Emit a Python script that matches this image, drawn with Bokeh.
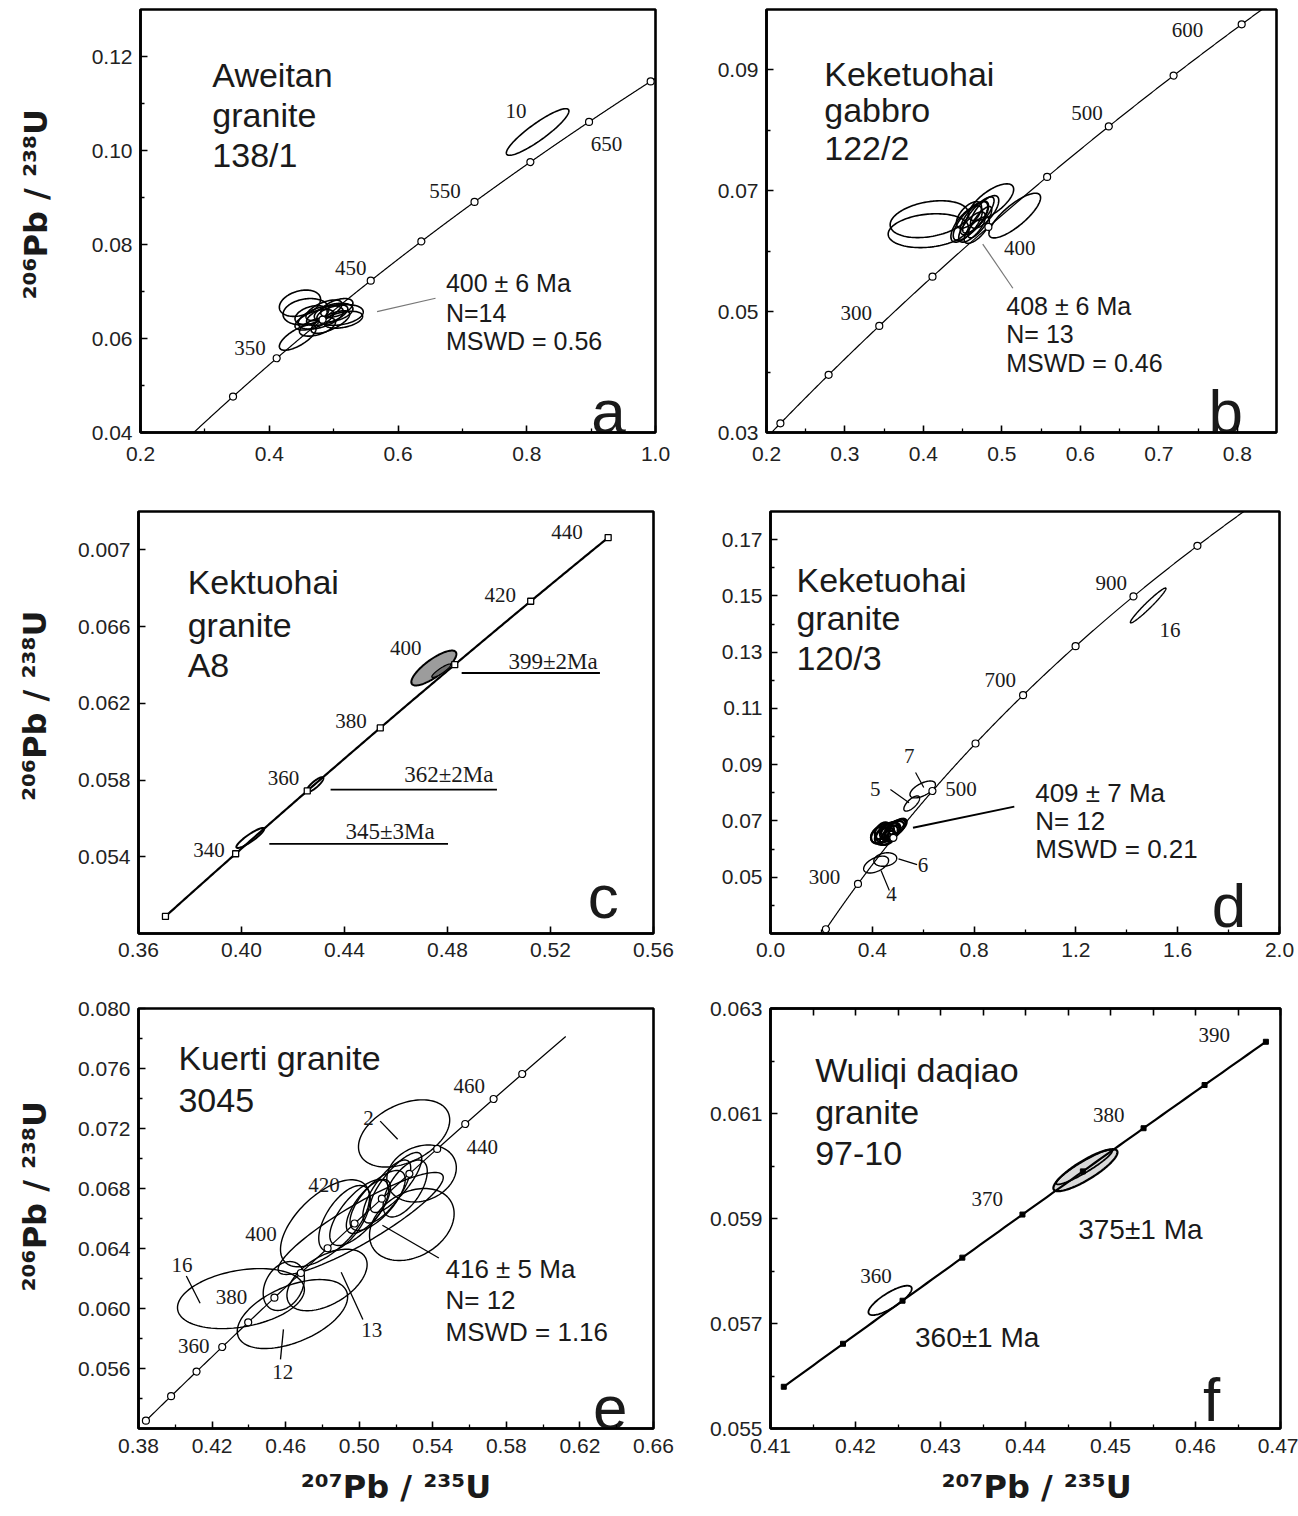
import numpy as np
from bokeh.plotting import figure
from bokeh.layouts import column, row
from bokeh.models import FixedTicker, LinearAxis, Range1d, PrintfTickFormatter
from bokeh.core.properties import value
from bokeh.embed import file_html
from bokeh.resources import INLINE

# ---------------------------------------------------------------------------
# Decay constants (1/yr) for the Wetherill concordia
LAMBDA_238 = 1.55125e-10
LAMBDA_235 = 9.8485e-10

# ---------------------------------------------------------------------------
# a  Aweitan granite 138/1
a_curve_span = [250, 710]
a_marker_ages = [300, 350, 400, 450, 500, 550, 600, 650, 700]
a_age_text = ["350", "450", "550", "650"]
a_ell_x = [0.8169, 0.4477, 0.4570, 0.4442, 0.470, 0.480, 0.490, 0.500, 0.510, 0.475, 0.495, 0.485, 0.505, 0.465, 0.515]
a_ell_y = [0.10394, 0.0675, 0.0657, 0.0602, 0.0640, 0.0645, 0.0650, 0.0655, 0.0650, 0.0625, 0.0635, 0.0660, 0.0665, 0.0650, 0.0640]
a_ell_sx = [0.0486, 0.032, 0.0356, 0.0285, 0.030, 0.035, 0.032, 0.030, 0.036, 0.028, 0.030, 0.028, 0.025, 0.025, 0.030]
a_ell_sy = [0.00496, 0.0028, 0.0028, 0.0027, 0.0022, 0.0025, 0.0022, 0.0020, 0.0022, 0.0020, 0.0024, 0.0022, 0.0020, 0.0020, 0.0018]
a_ell_rho = [0.9, 0.3, 0.2, 0.7, 0.6, 0.5, 0.6, 0.4, 0.3, 0.5, 0.7, 0.6, 0.5, 0.4, 0.4]
a_result = ["400 \u00b1 6 Ma", "N=14", "MSWD = 0.56"]
a_spot_text = ["10"]

# b  Keketuohai gabbro 122/2
b_curve_span = [185, 660]
b_marker_ages = [200, 250, 300, 350, 400, 450, 500, 550, 600]
b_age_text = ["300", "400", "500", "600"]
b_ell_x = [0.4075, 0.4062, 0.5164, 0.4862, 0.455, 0.460, 0.465, 0.470, 0.462, 0.472, 0.478, 0.458, 0.468]
b_ell_y = [0.0653, 0.0634, 0.0659, 0.0681, 0.0645, 0.0650, 0.0655, 0.0660, 0.0640, 0.0648, 0.0665, 0.0660, 0.0635]
b_ell_sx = [0.0499, 0.0511, 0.0329, 0.0288, 0.020, 0.022, 0.018, 0.020, 0.017, 0.015, 0.018, 0.016, 0.016]
b_ell_sy = [0.00305, 0.0028, 0.0037, 0.00305, 0.0030, 0.0032, 0.0028, 0.0030, 0.0025, 0.0026, 0.0027, 0.0022, 0.0022]
b_ell_rho = [0.3, 0.2, 0.8, 0.7, 0.7, 0.75, 0.7, 0.8, 0.7, 0.8, 0.7, 0.6, 0.7]
b_result = ["408 \u00b1 6 Ma", "N= 13", "MSWD = 0.46"]

# c  Kektuohai granite A8
c_curve_span = [320, 440]
c_marker_ages = [320, 340, 360, 380, 400, 420, 440]
c_age_text = ["440", "420", "400", "380", "360", "340"]
c_ell_x = [0.4034, 0.4285]
c_ell_y = [0.05498, 0.05776]
c_ell_sx = [0.0054, 0.0033]
c_ell_sy = [0.00052, 0.00039]
c_ell_rho = [0.9, 0.85]
c_fill_x = [0.4747, 0.4776]
c_fill_y = [0.06384, 0.0637]
c_fill_sx = [0.00875, 0.0037]
c_fill_sy = [0.00091, 0.00035]
c_fill_rho = [0.8, 0.9]
c_dates = ["399\u00b12Ma", "362\u00b12Ma", "345\u00b13Ma"]

# d  Keketuohai granite 120/3
d_curve_span = [190, 1080]
d_marker_ages = [200, 300, 400, 500, 600, 700, 800, 900, 1000]
d_age_text = ["300", "500", "700", "900"]
d_ell_x = [0.44, 0.46, 0.47, 0.48, 0.45, 0.49, 0.43, 0.50, 0.46, 0.47, 0.44, 0.48]
d_ell_y = [0.0655, 0.0660, 0.0665, 0.0670, 0.0645, 0.0675, 0.0650, 0.0680, 0.0640, 0.0655, 0.0665, 0.0660]
d_ell_sx = [0.045, 0.045, 0.040, 0.045, 0.040, 0.040, 0.035, 0.035, 0.030, 0.030, 0.030, 0.030]
d_ell_sy = [0.0035, 0.0035, 0.0030, 0.0030, 0.0030, 0.0030, 0.0030, 0.0028, 0.0025, 0.0028, 0.0030, 0.0025]
d_ell_rho = [0.4, 0.5, 0.4, 0.5, 0.3, 0.6, 0.3, 0.6, 0.4, 0.5, 0.4, 0.5]
d_out_x = [1.484, 0.598, 0.555, 0.451, 0.415]
d_out_y = [0.1466, 0.0812, 0.0762, 0.0563, 0.0545]
d_out_sx = [0.070, 0.050, 0.031, 0.045, 0.049]
d_out_sy = [0.0062, 0.0030, 0.0027, 0.0024, 0.0030]
d_out_rho = [0.97, 0.6, 0.7, 0.2, 0.5]
d_spot_text = ["16", "7", "5", "6", "4"]
d_result = ["409 \u00b1 7 Ma", "N= 12", "MSWD = 0.21"]

# e  Kuerti granite 3045
e_curve_span = [330, 485]
e_marker_ages = [330, 340, 350, 360, 370, 380, 390, 400, 410, 420, 430, 440, 450, 460, 470]
e_age_text = ["460", "440", "420", "400", "380", "360"]
e_ell_x = [0.5244, 0.4357, 0.4637, 0.459, 0.4825, 0.5008, 0.5286, 0.4814, 0.5339,
           0.510, 0.515, 0.505, 0.520, 0.500, 0.525, 0.492]
e_ell_y = [0.07167, 0.06066, 0.05963, 0.0615, 0.0619, 0.06567, 0.0656, 0.06568, 0.0690,
           0.0672, 0.0678, 0.0668, 0.0684, 0.0664, 0.0680, 0.0660]
e_ell_sx = [0.0248, 0.0345, 0.030, 0.0112, 0.0218, 0.0449, 0.023, 0.0242, 0.0189,
            0.015, 0.013, 0.012, 0.014, 0.016, 0.012, 0.014]
e_ell_sy = [0.00224, 0.0020, 0.0023, 0.00163, 0.00205, 0.0034, 0.0024, 0.0029, 0.0019,
            0.0020, 0.0021, 0.0018, 0.0020, 0.0022, 0.0019, 0.0022]
e_ell_rho = [0.4, 0.3, 0.5, 0.3, 0.5, 0.9, 0.3, 0.6, 0.2,
             0.7, 0.75, 0.7, 0.8, 0.7, 0.6, 0.6]
e_spot_text = ["2", "16", "13", "12"]
e_result = ["416 \u00b1 5 Ma", "N= 12", "MSWD = 1.16"]

# f  Wuliqi daqiao granite 97-10
f_curve_span = [350, 390]
f_marker_ages = [350, 355, 360, 365, 370, 375, 380, 385, 390]
f_age_text = ["390", "380", "370", "360"]
f_fill_x = [0.44705]
f_fill_y = [0.05992]
f_fill_sx = [0.00377]
f_fill_sy = [0.00040]
f_fill_rho = [0.85]
f_ell_x = [0.4469, 0.42407]
f_ell_y = [0.05998, 0.05744]
f_ell_sx = [0.0033, 0.00255]
f_ell_sy = [0.00033, 0.00028]
f_ell_rho = [0.93, 0.8]
f_dates = ["375\u00b11 Ma", "360\u00b11 Ma"]

# axis ticks
a_xt = [0.2, 0.4, 0.6, 0.8, 1.0]; a_xm = [0.3, 0.5, 0.7, 0.9]
a_yt = [0.04, 0.06, 0.08, 0.10, 0.12]; a_ym = [0.05, 0.07, 0.09, 0.11]
b_xt = [0.2, 0.3, 0.4, 0.5, 0.6, 0.7, 0.8]; b_xm = [0.25, 0.35, 0.45, 0.55, 0.65, 0.75]
b_yt = [0.03, 0.05, 0.07, 0.09]; b_ym = [0.04, 0.06, 0.08]
c_xt = [0.36, 0.40, 0.44, 0.48, 0.52, 0.56]; c_xm = []
c_yt = [0.054, 0.058, 0.062, 0.066, 0.070]; c_ym = []
d_xt = [0.0, 0.4, 0.8, 1.2, 1.6, 2.0]; d_xm = [0.2, 0.6, 1.0, 1.4, 1.8]
d_yt = [0.05, 0.07, 0.09, 0.11, 0.13, 0.15, 0.17]; d_ym = [0.04, 0.06, 0.08, 0.10, 0.12, 0.14, 0.16]
e_xt = [0.38, 0.42, 0.46, 0.50, 0.54, 0.58, 0.62, 0.66]; e_xm = [0.40, 0.44, 0.48, 0.52, 0.56, 0.60, 0.64]
e_yt = [0.056, 0.060, 0.064, 0.068, 0.072, 0.076, 0.080]; e_ym = [0.054, 0.058, 0.062, 0.066, 0.070, 0.074, 0.078]
f_xt = [0.41, 0.42, 0.43, 0.44, 0.45, 0.46, 0.47]; f_xm = [0.415, 0.425, 0.435, 0.445, 0.455, 0.465]
f_yt = [0.055, 0.057, 0.059, 0.061, 0.063]; f_ym = [0.056, 0.058, 0.060, 0.062]

Y_TITLE = "\u00b2\u2070\u2076Pb / \u00b2\u00b3\u2078U"
X_TITLE = "\u00b2\u2070\u2077Pb / \u00b2\u00b3\u2075U"

# ---------------------------------------------------------------------------
SANS = "Liberation Sans"
SERIF = "Liberation Serif"
TITLE_FONT = "DejaVu Sans"
INK = "#1a1a1a"
NB = "\u00a0"


def concordia_xy(ages):
    t = np.asarray(ages, dtype=float) * 1e6
    return np.expm1(LAMBDA_235 * t), np.expm1(LAMBDA_238 * t)


def curve(p, span, width):
    ages = np.arange(span[0], span[1] + 0.5, 0.5)
    x, y = concordia_xy(ages)
    p.line(x, y, line_color="black", line_width=width)


def ellipses(p, cx, cy, sx, sy, rho, width=1.5, fill=None, n=120):
    th = np.linspace(0, 2 * np.pi, n)
    xs, ys = [], []
    for x0, y0, a, b, r in zip(cx, cy, sx, sy, rho):
        xs.append(list(x0 + a * np.cos(th)))
        ys.append(list(y0 + b * (r * np.cos(th) + np.sqrt(1 - r * r) * np.sin(th))))
    p.patches(xs, ys, fill_color=fill, line_color="black", line_width=width)


def markers(p, ages, marker="circle", size=7, fill="white", width=1.2):
    x, y = concordia_xy(ages)
    p.scatter(x, y, marker=marker, size=size, fill_color=fill, line_color="black", line_width=width)


def put_text(p, xs, ys, texts, font=SANS, size="22px", align="left", baseline="middle", style="normal"):
    p.text(x=xs, y=ys, text=texts, text_font=value(font), text_font_size=size,
           text_align=align, text_baseline=baseline, text_color=INK, text_font_style=style)


def panel(width, height, frame, xr, yr, xt, xm, yt, ym, xfmt, yfmt, xstand, ystand=8):
    left, right, top, bottom = frame
    p = figure(width=width, height=height, x_range=Range1d(*xr), y_range=Range1d(*yr),
               output_backend="svg", toolbar_location=None,
               min_border_left=left, min_border_right=width - right,
               min_border_top=top, min_border_bottom=height - bottom)
    p.xgrid.visible = False
    p.ygrid.visible = False
    p.outline_line_color = "black"
    p.outline_line_width = 2.6
    p.outline_line_alpha = 1.0
    p.background_fill_color = "white"
    p.border_fill_color = "white"
    for ax, ticks, minor, fmt, stand in ((p.xaxis[0], xt, xm, xfmt, xstand),
                                         (p.yaxis[0], yt, ym, yfmt, ystand)):
        ax.ticker = FixedTicker(ticks=ticks, minor_ticks=minor)
        ax.formatter = PrintfTickFormatter(format=fmt)
        ax.axis_line_color = "black"
        ax.axis_line_width = 2.6
        ax.major_tick_in = 7
        ax.major_tick_out = 0
        ax.minor_tick_in = 4
        ax.minor_tick_out = 0
        ax.major_tick_line_width = 1.6
        ax.minor_tick_line_width = 1.3
        ax.major_label_text_font = SANS
        ax.major_label_text_font_size = "21px"
        ax.major_label_text_color = "#222222"
        ax.major_label_standoff = stand
        ax.axis_label_text_font = TITLE_FONT
        ax.axis_label_text_font_size = "32px"
        ax.axis_label_text_font_style = "bold"
        ax.axis_label_text_color = INK
    return p


# ---------------------------------------------------------------------------
# a
fa_frame = (140, 655, 9, 433)
pa = panel(700, 490, fa_frame, (0.2, 1.0), (0.04, 0.13), a_xt, a_xm, a_yt, a_ym, "%.1f", "%.2f", 14)
pa.yaxis[0].axis_label = NB * 3 + Y_TITLE
pa.yaxis[0].axis_label_standoff = 34
ellipses(pa, a_ell_x, a_ell_y, a_ell_sx, a_ell_sy, a_ell_rho, width=1.6)
curve(pa, a_curve_span, 1.2)
markers(pa, a_marker_ages)
pa.segment(x0=[0.5675], y0=[0.06571], x1=[0.6583], y1=[0.06856], line_color="#777777", line_width=1.2)
put_text(pa, [0.370, 0.5267, 0.6731, 0.9238], [0.05794, 0.07493, 0.0914, 0.10132], a_age_text,
         font=SERIF, size="21px", align="center")
put_text(pa, [0.7833], [0.10839], a_spot_text, font=SERIF, size="21px", align="center")
put_text(pa, [0.6744] * 3, [0.07174, 0.06537, 0.05956], a_result, size="25px")
put_text(pa, [0.3116] * 3, [0.11597, 0.10747, 0.09898], ["Aweitan", "granite", "138/1"], size="34px")
put_text(pa, [0.927], [0.04448], ["a"], size="62px", align="center", baseline="alphabetic")

# b
fb_frame = (66, 576, 9, 432)
pb = panel(598, 490, fb_frame, (0.2, 0.85), (0.03, 0.10), b_xt, b_xm, b_yt, b_ym, "%.1f", "%.2f", 14)
ellipses(pb, b_ell_x, b_ell_y, b_ell_sx, b_ell_sy, b_ell_rho, width=1.6)
curve(pb, b_curve_span, 1.2)
markers(pb, b_marker_ages)
pb.segment(x0=[0.4756], y0=[0.06118], x1=[0.514], y1=[0.05387], line_color="#777777", line_width=1.2)
put_text(pb, [0.3145, 0.5229, 0.6085, 0.7366], [0.04982, 0.0606, 0.08287, 0.09661], b_age_text,
         font=SERIF, size="21px", align="center")
put_text(pb, [0.5056] * 3, [0.05093, 0.04623, 0.04151], b_result, size="25px")
put_text(pb, [0.2736] * 3, [0.0894, 0.0833, 0.0770], ["Keketuohai", "gabbro", "122/2"], size="34px")
put_text(pb, [0.7854], [0.03349], ["b"], size="62px", align="center", baseline="alphabetic")

# c
fc_frame = (138, 653, 21, 445)
pc = panel(700, 495, fc_frame, (0.36, 0.56), (0.050, 0.072), c_xt, c_xm, c_yt, c_ym, "%.2f", "%.3f", 9)
pc.yaxis[0].major_label_overrides = {c_yt[-1]: "0.007"}
pc.yaxis[0].axis_label = NB * 3 + Y_TITLE
pc.yaxis[0].axis_label_standoff = 21
ellipses(pc, c_fill_x[:1], c_fill_y[:1], c_fill_sx[:1], c_fill_sy[:1], c_fill_rho[:1], width=2.0, fill="#9c9c9c")
ellipses(pc, c_fill_x[1:], c_fill_y[1:], c_fill_sx[1:], c_fill_sy[1:], c_fill_rho[1:], width=1.2, fill="#6f6f6f")
ellipses(pc, c_ell_x, c_ell_y, c_ell_sx, c_ell_sy, c_ell_rho, width=2.0)
curve(pc, c_curve_span, 2.2)
markers(pc, c_marker_ages, marker="square", size=6, width=1.3)
pc.segment(x0=[0.4855, 0.4346, 0.4108], y0=[0.06358, 0.0575, 0.05467],
           x1=[0.5392, 0.4992, 0.4802], y1=[0.06358, 0.0575, 0.05467], line_color="black", line_width=1.8)
put_text(pc, [0.5210, 0.4805, 0.4577], [0.06418, 0.05828, 0.05533], c_dates, font=SERIF, size="23px", align="center")
put_text(pc, [0.5264, 0.5005, 0.4638, 0.4425, 0.4163, 0.3874], [0.07095, 0.06766, 0.06488, 0.06106, 0.05811, 0.05437],
         c_age_text, font=SERIF, size="21px", align="center")
put_text(pc, [0.3791] * 3, [0.06835, 0.06609, 0.06401], ["Kektuohai", "granite", "A8"], size="34px")
put_text(pc, [0.5405], [0.05194], ["c"], size="62px", align="center", baseline="alphabetic")

# d
fd_frame = (70, 579, 21, 443)
pd_ = panel(598, 495, fd_frame, (0.0, 2.0), (0.03, 0.18), d_xt, d_xm, d_yt, d_ym, "%.1f", "%.2f", 9)
ellipses(pd_, d_ell_x, d_ell_y, d_ell_sx, d_ell_sy, d_ell_rho, width=2.2)
ellipses(pd_, d_out_x, d_out_y, d_out_sx, d_out_sy, d_out_rho, width=1.4)
curve(pd_, d_curve_span, 1.2)
markers(pd_, d_marker_ages)
pd_.segment(x0=[0.570, 0.4712, 0.503, 0.4343, 0.5599], y0=[0.0872, 0.0812, 0.0565, 0.0524, 0.0676],
            x1=[0.6022, 0.5444, 0.576, 0.467, 0.958], y1=[0.0819, 0.0765, 0.0545, 0.0453, 0.0751],
            line_color="black", line_width=[1.2, 1.2, 1.2, 1.2, 2.0])
put_text(pd_, [0.2117, 0.7483, 0.9029, 1.3387], [0.0500, 0.0815, 0.1201, 0.1547], d_age_text,
         font=SERIF, size="21px", align="center")
put_text(pd_, [1.5697, 0.5453, 0.4118, 0.5988, 0.4752], [0.1379, 0.0930, 0.0812, 0.0545, 0.0441], d_spot_text,
         font=SERIF, size="21px", align="center")
put_text(pd_, [1.040] * 3, [0.0798, 0.0700, 0.0600], d_result, size="26px")
put_text(pd_, [0.102] * 3, [0.1557, 0.1420, 0.1278], ["Keketuohai", "granite", "120/3"], size="34px")
put_text(pd_, [1.802], [0.03993], ["d"], size="62px", align="center", baseline="alphabetic")

# e
fe_frame = (138, 653, 23, 443)
pe = panel(700, 531, fe_frame, (0.38, 0.66), (0.052, 0.080), e_xt, e_xm, e_yt, e_ym, "%.2f", "%.3f", 10)
pe.yaxis[0].axis_label = NB * 4 + Y_TITLE
pe.yaxis[0].axis_label_standoff = 21
pe.xaxis[0].axis_label = X_TITLE
pe.xaxis[0].axis_label_standoff = 12
ellipses(pe, e_ell_x, e_ell_y, e_ell_sx, e_ell_sy, e_ell_rho, width=1.4)
curve(pe, e_curve_span, 1.2)
markers(pe, e_marker_ages)
pe.segment(x0=[0.5114, 0.406, 0.4902, 0.4588, 0.5126], y0=[0.07249, 0.06217, 0.06241, 0.05861, 0.06555],
           x1=[0.5209, 0.4135, 0.5020, 0.4572, 0.5433], y1=[0.07128, 0.06035, 0.05927, 0.05661, 0.06337],
           line_color="black", line_width=1.3)
put_text(pe, [0.5598, 0.5669, 0.4808, 0.4466, 0.4305, 0.4100], [0.07486, 0.07075, 0.06821, 0.06495, 0.06079, 0.05753],
         e_age_text, font=SERIF, size="21px", align="center")
put_text(pe, [0.5051, 0.4036, 0.5068, 0.4584], [0.07268, 0.06289, 0.05859, 0.05576], e_spot_text,
         font=SERIF, size="21px", align="center")
put_text(pe, [0.5469] * 3, [0.06265, 0.0606, 0.05842], e_result, size="26px")
put_text(pe, [0.4017] * 2, [0.07669, 0.0739], ["Kuerti granite", "3045"], size="34px")
put_text(pe, [0.6365], [0.05339], ["e"], size="62px", align="center", baseline="alphabetic")

# f
ff_frame = (70, 580, 22, 443)
pf = panel(598, 531, ff_frame, (0.41, 0.47), (0.055, 0.063), f_xt, f_xm, f_yt, f_ym, "%.2f", "%.3f", 10)
pf.xaxis[0].axis_label = NB * 2 + X_TITLE
pf.xaxis[0].axis_label_standoff = 12
top_axis = LinearAxis(ticker=FixedTicker(ticks=f_xt + f_xm), major_label_text_font_size="1px",
                      major_label_text_color=None, axis_line_color="black", axis_line_width=2.6,
                      major_tick_in=7, major_tick_out=0, minor_tick_in=0, minor_tick_out=0,
                      major_tick_line_width=1.6)
pf.add_layout(top_axis, "above")
ellipses(pf, f_fill_x, f_fill_y, f_fill_sx, f_fill_sy, f_fill_rho, width=2.2, fill="#d9d9d9")
ellipses(pf, f_ell_x, f_ell_y, f_ell_sx, f_ell_sy, f_ell_rho, width=1.8)
curve(pf, f_curve_span, 2.2)
markers(pf, f_marker_ages, marker="square", size=5, fill="black", width=1.0)
put_text(pf, [0.4622, 0.4498, 0.4355, 0.4224], [0.06249, 0.06098, 0.05937, 0.05791], f_age_text,
         font=SERIF, size="21px", align="center")
put_text(pf, [0.4462, 0.4270], [0.0588, 0.05673], f_dates, size="28px")
put_text(pf, [0.41525] * 3, [0.06182, 0.06103, 0.06024], ["Wuliqi daqiao", "granite", "97-10"], size="34px")
put_text(pf, [0.4619], [0.05555], ["f"], size="62px", align="center", baseline="alphabetic")

layout = column(row(pa, pb), row(pc, pd_), row(pe, pf))
open("out.html", "w").write(file_html(layout, INLINE))
